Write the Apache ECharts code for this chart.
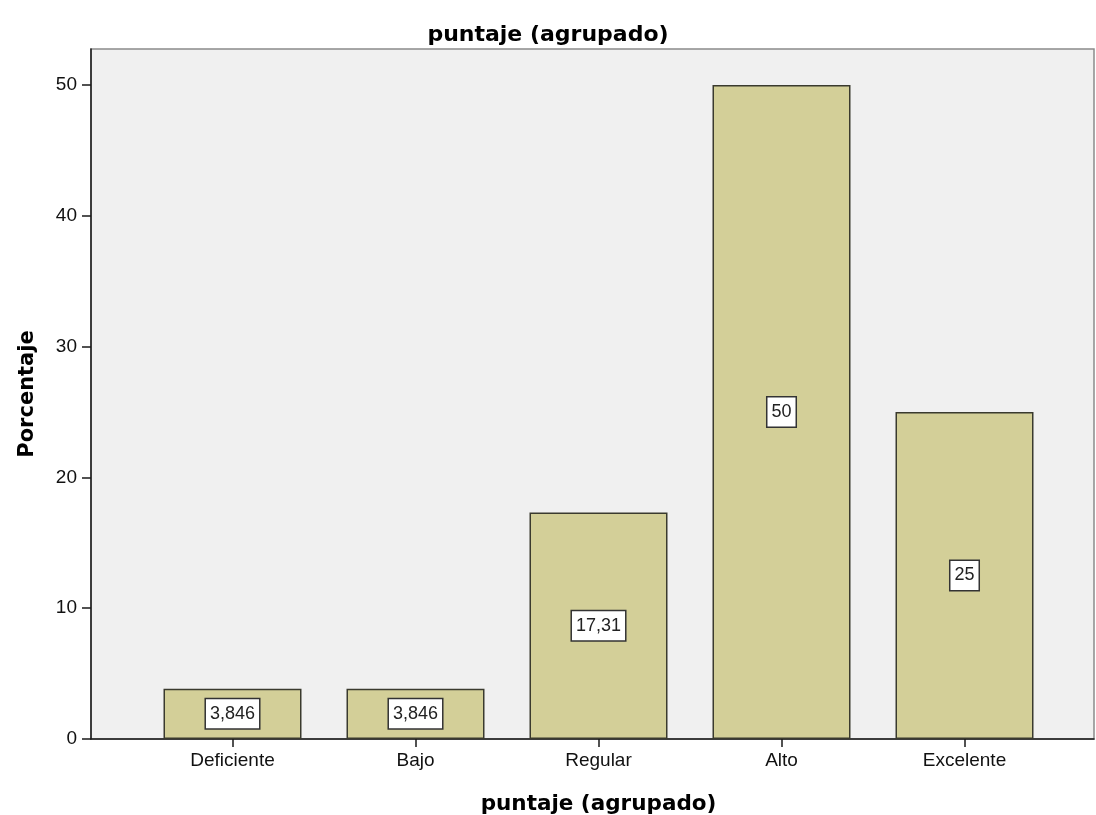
<!DOCTYPE html>
<html>
<head>
<meta charset="utf-8">
<script src="https://cdn.jsdelivr.net/npm/echarts@6/dist/echarts.min.js"></script>
<style>
html,body{margin:0;padding:0;background:#fff;}
#chart{width:1096px;height:815px;}
</style>
</head>
<body>
<div id="chart"></div>
<script>
const categories = ['Deficiente', 'Bajo', 'Regular', 'Alto', 'Excelente'];
const values = [3.846, 3.846, 17.31, 50, 25];
const valueLabels = ['3,846', '3,846', '17,31', '50', '25'];
const yTicks = [0, 10, 20, 30, 40, 50];

const chart = echarts.init(document.getElementById('chart'), null, {renderer: 'canvas'});
const FONT = 'Liberation Sans, Arial, sans-serif';
const BOLD = 'DejaVu Sans, Verdana, sans-serif';
const YMAX = 52.75;

chart.setOption({
  animation: false,
  backgroundColor: '#ffffff',
  title: {
    text: 'puntaje (agrupado)',
    left: 'center', top: 19,
    textStyle: {fontFamily: BOLD, fontSize: 22, fontWeight: 'bold', color: '#000'}
  },
  grid: [
    {left: 91, right: 2, top: 49, bottom: 76, show: true, backgroundColor: '#f0f0f0', borderColor: '#8a8a8a', borderWidth: 1.5, containLabel: false, outerBoundsMode: 'none'},
    {left: 141, width: 915, top: 49, bottom: 76, containLabel: false, outerBoundsMode: 'none'}
  ],
  xAxis: [
    {gridIndex: 0, type: 'category', data: [''],
     axisLine: {show: true, lineStyle: {color: '#1a1a1a', width: 1.5}},
     axisTick: {show: false}, axisLabel: {show: false}
    },
    {gridIndex: 1, type: 'category', data: categories,
     axisLine: {show: false},
     axisTick: {show: true, alignWithLabel: true, length: 8, lineStyle: {color: '#1a1a1a', width: 1.5}},
     axisLabel: {fontFamily: FONT, fontSize: 19, color: '#111', margin: 12},
     name: 'puntaje (agrupado)', nameLocation: 'middle', nameGap: 54,
     nameTextStyle: {fontFamily: BOLD, fontSize: 21.5, fontWeight: 'bold', color: '#000'}
    }
  ],
  yAxis: [
    {gridIndex: 0, type: 'value', min: 0, max: YMAX, interval: 10,
     axisLine: {show: true, lineStyle: {color: '#1a1a1a', width: 1.5}},
     axisTick: {show: true, length: 9, lineStyle: {color: '#1a1a1a', width: 1.5}},
     axisLabel: {fontFamily: FONT, fontSize: 19, color: '#111', margin: 14, showMaxLabel: false,
       formatter: v => yTicks.includes(v) ? String(v) : ''},
     splitLine: {show: false},
     name: 'Porcentaje', nameLocation: 'middle', nameGap: 53, nameRotate: 90,
     nameTextStyle: {fontFamily: BOLD, fontSize: 21, fontWeight: 'bold', color: '#000'}
    },
    {gridIndex: 1, type: 'value', min: 0, max: YMAX, show: false, splitLine: {show: false}}
  ],
  series: [{
    type: 'bar', xAxisIndex: 1, yAxisIndex: 1,
    data: values,
    barWidth: 138,
    itemStyle: {color: '#d3cf98', borderColor: '#3a3a2e', borderWidth: 1.5},
    label: {
      show: true, position: 'inside',
      formatter: p => valueLabels[p.dataIndex],
      fontFamily: FONT, fontSize: 18, color: '#222',
      backgroundColor: '#ffffff', borderColor: '#333', borderWidth: 1.5,
      padding: [6, 4, 5, 4]
    }
  }]
});
</script>
</body>
</html>
